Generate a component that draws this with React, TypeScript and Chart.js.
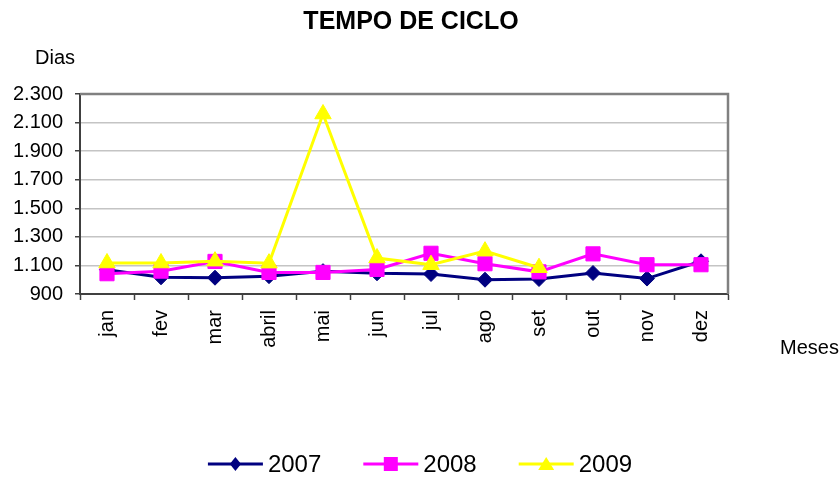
import React, { useEffect, useRef } from 'react';
import { Chart, registerables } from 'chart.js';

Chart.register(...registerables);

const months = ['jan', 'fev', 'mar', 'abril', 'mai', 'jun', 'jul', 'ago', 'set', 'out', 'nov', 'dez'];
const values2007 = [1070, 1017, 1014, 1025, 1060, 1045, 1040, 1000, 1005, 1047, 1008, 1129];
const values2008 = [1042, 1060, 1128, 1051, 1051, 1072, 1185, 1112, 1055, 1181, 1105, 1105];
const values2009 = [1117, 1117, 1130, 1116, 2160, 1152, 1105, 1200, 1084, null, null, null];
const seriesLabels = ['2007', '2008', '2009'];
const seriesColors = ['#000080', '#FF00FF', '#FFFF00'];
const seriesStyles = ['rectRot', 'rect', 'triangle'];
const yTickValues = [900, 1100, 1300, 1500, 1700, 1900, 2100, 2300];
const chartTitle = 'TEMPO DE CICLO';
const yAxisName = 'Dias';
const xAxisName = 'Meses';

const FONT = "'Liberation Sans', Arial, Helvetica, sans-serif";

function fmt(v: number): string {
  return String(v).replace(/\B(?=(\d{3})+(?!\d))/g, '.');
}

function drawMarker(ctx: CanvasRenderingContext2D, style: string, x: number, y: number, color: string) {
  ctx.save();
  ctx.fillStyle = color;
  ctx.beginPath();
  if (style === 'rectRot') {
    const r = 7;
    ctx.moveTo(x, y - r);
    ctx.lineTo(x + r * 0.8, y);
    ctx.lineTo(x, y + r);
    ctx.lineTo(x - r * 0.8, y);
    ctx.closePath();
  } else if (style === 'rect') {
    const h = 7;
    ctx.rect(x - h, y - h, 2 * h, 2 * h);
  } else {
    const w = 8, h = 12;
    ctx.moveTo(x, y - h / 2 - 1);
    ctx.lineTo(x + w, y + h / 2);
    ctx.lineTo(x - w, y + h / 2);
    ctx.closePath();
  }
  ctx.fill();
  ctx.restore();
}

const decorPlugin = {
  id: 'decor',
  beforeDatasetsDraw(chart: any) {
    const { ctx, chartArea } = chart;
    ctx.save();
    ctx.strokeStyle = '#808080';
    ctx.lineWidth = 2.5;
    ctx.beginPath();
    ctx.moveTo(chartArea.left, chartArea.top);
    ctx.lineTo(chartArea.right, chartArea.top);
    ctx.lineTo(chartArea.right, chartArea.bottom);
    ctx.stroke();
    ctx.restore();
  },
  afterDraw(chart: any) {
    const { ctx } = chart;
    ctx.save();
    ctx.fillStyle = '#000';
    ctx.textBaseline = 'middle';
    ctx.textAlign = 'center';
    ctx.font = `bold 25px ${FONT}`;
    ctx.fillText(chartTitle, 411, 22);
    ctx.textAlign = 'left';
    ctx.font = `20px ${FONT}`;
    ctx.fillText(yAxisName, 35, 58);
    ctx.fillText(xAxisName, 780, 348);

    // legend
    const lineLen = 55;
    const gapText = 5;
    const gapItem = 42;
    ctx.font = `24px ${FONT}`;
    const ds = chart.data.datasets;
    const widths = ds.map((d: any) => lineLen + gapText + ctx.measureText(d.label).width);
    const total = widths.reduce((a: number, b: number) => a + b, 0) + gapItem * (ds.length - 1);
    let x = 420 - total / 2;
    const y = 464;
    ds.forEach((d: any, i: number) => {
      ctx.strokeStyle = d.borderColor;
      ctx.lineWidth = 3;
      ctx.beginPath();
      ctx.moveTo(x, y);
      ctx.lineTo(x + lineLen, y);
      ctx.stroke();
      drawMarker(ctx, d.pointStyle, x + lineLen / 2, y, d.borderColor);
      ctx.fillStyle = '#000';
      ctx.textAlign = 'left';
      ctx.fillText(d.label, x + lineLen + gapText, y + 1);
      x += widths[i] + gapItem;
    });
    ctx.restore();
  },
};

export default function App() {
  const ref = useRef<HTMLCanvasElement | null>(null);

  useEffect(() => {
    document.body.style.margin = '0';
    const canvas = ref.current;
    if (!canvas) return;
    const radii = [7.5, 10, 9.5];
    const seriesValues = [values2007, values2008, values2009];
    const chart = new Chart(canvas, {
      type: 'line',
      data: {
        labels: months,
        datasets: seriesLabels.map((label, i) => ({
          label,
          data: seriesValues[i],
          borderColor: seriesColors[i],
          backgroundColor: seriesColors[i],
          pointBackgroundColor: seriesColors[i],
          pointBorderColor: seriesColors[i],
          pointStyle: seriesStyles[i],
          pointRadius: radii[i],
          pointBorderWidth: 1,
          borderWidth: 3,
          tension: 0,
          fill: false,
          order: 3 - i,
        })),
      },
      options: {
        animation: false,
        responsive: false,
        maintainAspectRatio: false,
        layout: { padding: { top: 94, right: 112, bottom: 0, left: 0 } },
        plugins: {
          legend: { display: false },
          title: { display: false },
          tooltip: { enabled: false },
        },
        scales: {
          x: {
            type: 'category',
            offset: true,
            grid: {
              offset: true,
              drawOnChartArea: false,
              drawTicks: true,
              tickLength: 6,
              tickColor: '#404040',
              tickWidth: 1.5,
            },
            border: { color: '#404040', width: 2 },
            ticks: {
              autoSkip: false,
              minRotation: 90,
              maxRotation: 90,
              padding: 10,
              color: '#000',
              font: { family: FONT, size: 20 },
            },
            afterFit: (scale: any) => {
              scale.height = 184;
            },
          },
          y: {
            min: yTickValues[0],
            max: yTickValues[yTickValues.length - 1],
            afterBuildTicks: (scale: any) => {
              scale.ticks = yTickValues.map((v) => ({ value: v }));
            },
            grid: {
              color: '#c4c4c4',
              lineWidth: 1.5,
              drawTicks: true,
              tickLength: 5,
              tickColor: '#404040',
              tickWidth: 1.5,
            },
            border: { color: '#404040', width: 2 },
            ticks: {
              padding: 12,
              color: '#000',
              font: { family: FONT, size: 20 },
              callback: (v: any) => fmt(Number(v)),
            },
            afterFit: (scale: any) => {
              scale.width = 80;
            },
          },
        },
      },
      plugins: [decorPlugin],
    } as any);
    return () => chart.destroy();
  }, []);

  return (
    <div style={{ width: 840, height: 478, background: '#fff' }}>
      <canvas ref={ref} width={840} height={478} style={{ display: 'block' }} />
    </div>
  );
}
